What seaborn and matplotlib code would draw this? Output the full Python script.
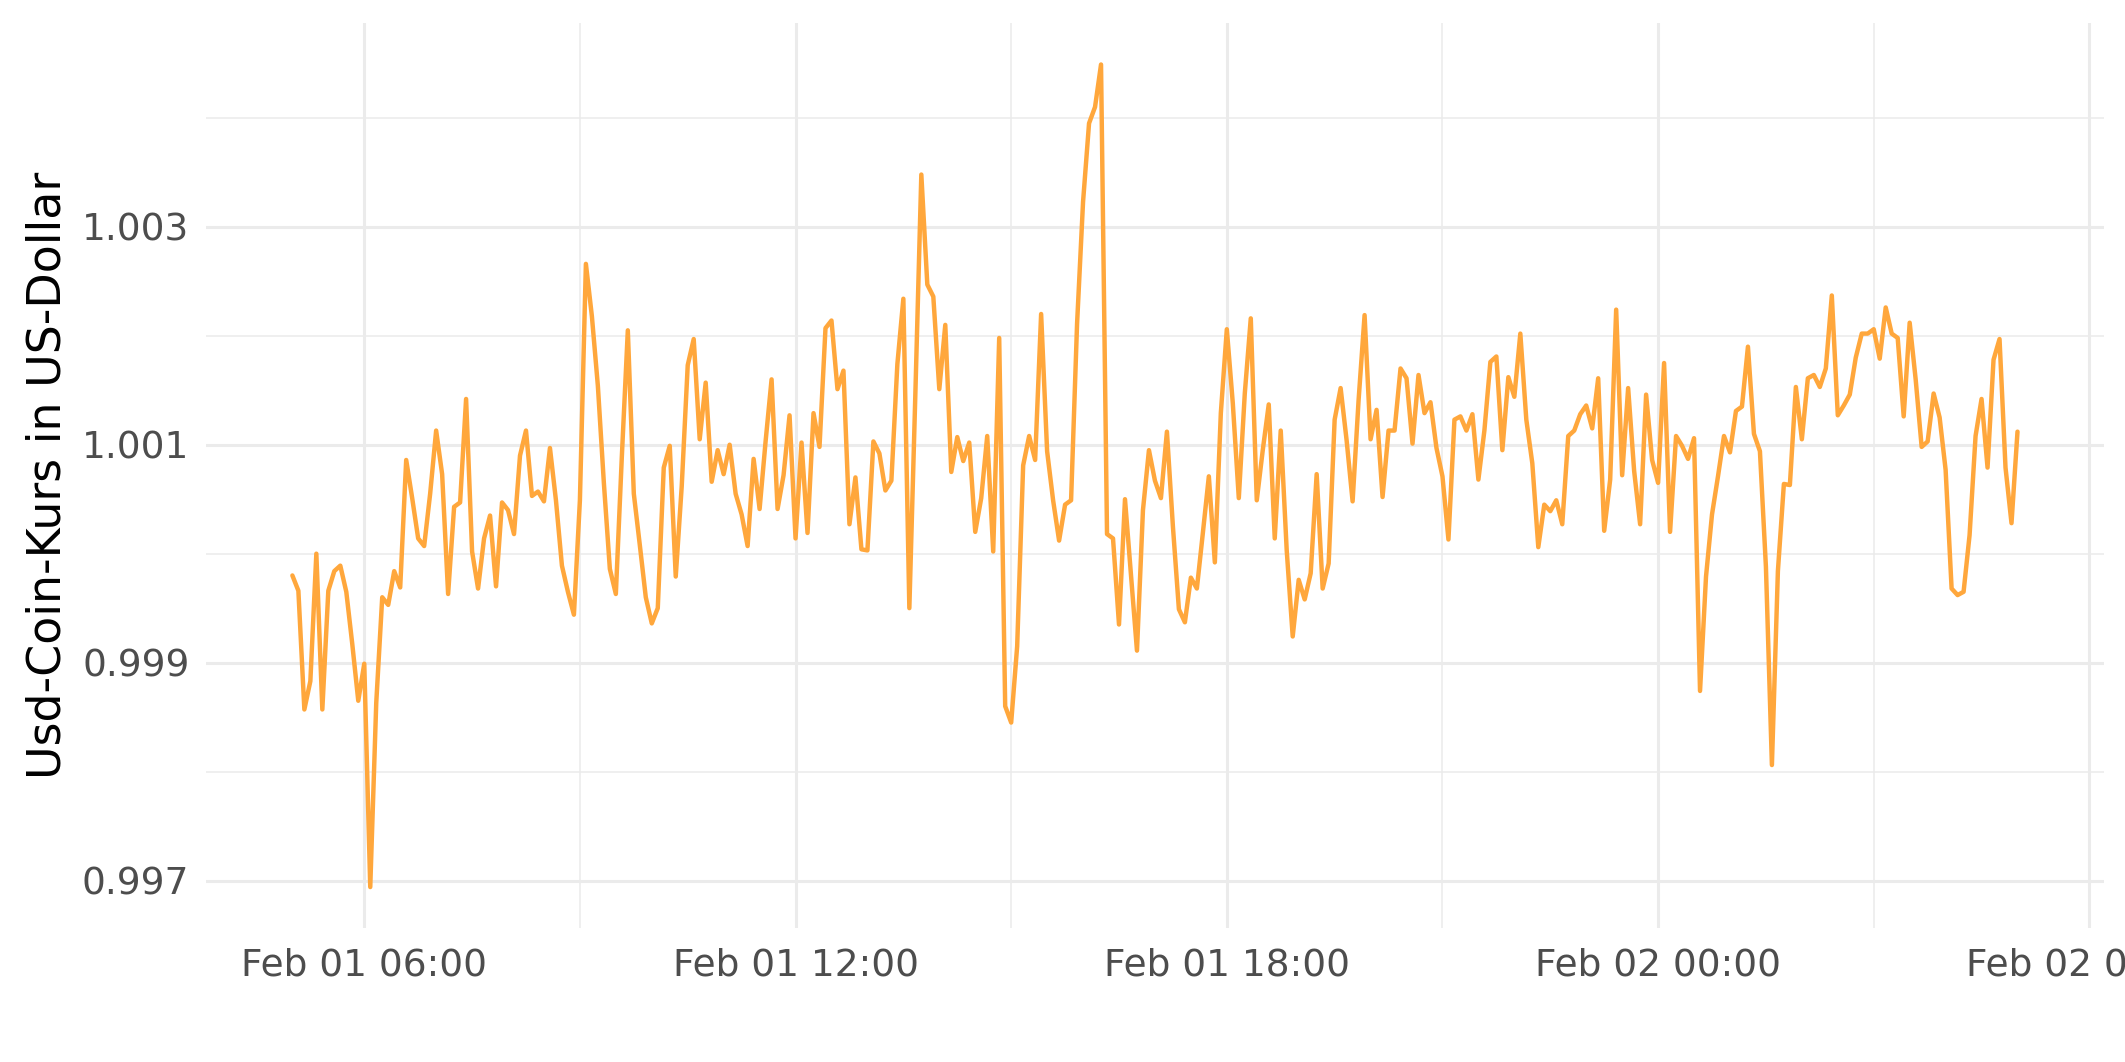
import matplotlib
matplotlib.use('Agg')
import matplotlib.pyplot as plt
import matplotlib.dates as mdates
from matplotlib.ticker import FixedLocator, FormatStrFormatter
import pandas as pd
import seaborn as sns

# USD-Coin Kurs, 5-Minuten-Werte vom 01.02. 05:00 bis 02.02. 05:00
kurs_05_11 = [0.99980, 0.99966, 0.99857, 0.99883, 1.00000, 0.99857, 0.99966, 0.99984, 0.99989, 0.99965,
              0.99917, 0.99865, 0.99899, 0.99694, 0.99863, 0.99960, 0.99953, 0.99984, 0.99969, 1.00086,
              1.00051, 1.00014, 1.00007, 1.00055, 1.00113, 1.00073, 0.99963, 1.00043, 1.00047, 1.00142,
              1.00002, 0.99968, 1.00014, 1.00035, 0.99970, 1.00047, 1.00040, 1.00018, 1.00090, 1.00113,
              1.00053, 1.00057, 1.00048, 1.00097, 1.00049, 0.99989, 0.99965, 0.99944, 1.00049, 1.00266,
              1.00218, 1.00154, 1.00065, 0.99986, 0.99963, 1.00089, 1.00205, 1.00055, 1.00008, 0.99960,
              0.99936, 0.99950, 1.00079, 1.00099, 0.99979, 1.00062, 1.00173, 1.00197, 1.00105, 1.00157,
              1.00066, 1.00095]
kurs_11_17 = [1.00073, 1.00100, 1.00055, 1.00036, 1.00007, 1.00087, 1.00041, 1.00103, 1.00160, 1.00041,
              1.00072, 1.00127, 1.00014, 1.00102, 1.00019, 1.00129, 1.00098, 1.00207, 1.00214, 1.00151,
              1.00168, 1.00027, 1.00070, 1.00004, 1.00003, 1.00103, 1.00092, 1.00058, 1.00067, 1.00174,
              1.00234, 0.99950, 1.00146, 1.00348, 1.00247, 1.00236, 1.00151, 1.00210, 1.00075, 1.00107,
              1.00085, 1.00102, 1.00020, 1.00051, 1.00108, 1.00002, 1.00198, 0.99860, 0.99845, 0.99915,
              1.00081, 1.00108, 1.00086, 1.00220, 1.00094, 1.00049, 1.00012, 1.00045, 1.00049, 1.00211,
              1.00323, 1.00395, 1.00410, 1.00449, 1.00018, 1.00014, 0.99935, 1.00050, 0.99981, 0.99911,
              1.00040, 1.00095]
kurs_17_23 = [1.00067, 1.00051, 1.00112, 1.00025, 0.99949, 0.99937, 0.99978, 0.99968, 1.00019, 1.00071,
              0.99992, 1.00129, 1.00206, 1.00138, 1.00051, 1.00147, 1.00216, 1.00049, 1.00095, 1.00137,
              1.00014, 1.00113, 1.00003, 0.99924, 0.99976, 0.99958, 0.99982, 1.00073, 0.99968, 0.99991,
              1.00123, 1.00152, 1.00104, 1.00048, 1.00141, 1.00219, 1.00105, 1.00132, 1.00052, 1.00113,
              1.00113, 1.00170, 1.00161, 1.00101, 1.00164, 1.00129, 1.00139, 1.00097, 1.00071, 1.00013,
              1.00123, 1.00126, 1.00113, 1.00128, 1.00068, 1.00113, 1.00176, 1.00181, 1.00095, 1.00162,
              1.00144, 1.00202, 1.00123, 1.00083, 1.00006, 1.00045, 1.00039, 1.00049, 1.00027, 1.00108,
              1.00113, 1.00128]
kurs_23_05 = [1.00136, 1.00115, 1.00161, 1.00021, 1.00068, 1.00224, 1.00072, 1.00152, 1.00076, 1.00027,
              1.00146, 1.00086, 1.00065, 1.00175, 1.00020, 1.00108, 1.00099, 1.00087, 1.00106, 0.99874,
              0.99979, 1.00036, 1.00071, 1.00108, 1.00093, 1.00131, 1.00135, 1.00190, 1.00110, 1.00094,
              0.99988, 0.99806, 0.99984, 1.00064, 1.00063, 1.00153, 1.00105, 1.00161, 1.00164, 1.00153,
              1.00170, 1.00237, 1.00127, 1.00136, 1.00146, 1.00180, 1.00202, 1.00202, 1.00206, 1.00179,
              1.00226, 1.00202, 1.00198, 1.00126, 1.00212, 1.00160, 1.00098, 1.00103, 1.00147, 1.00125,
              1.00077, 0.99968, 0.99962, 0.99965, 1.00017, 1.00108, 1.00142, 1.00079, 1.00178, 1.00197,
              1.00079, 1.00028, 1.00112]

y_ticks = [0.997, 0.999, 1.001, 1.003]
y_minor = [0.998, 1.000, 1.002, 1.004]

kurs = kurs_05_11 + kurs_11_17 + kurs_17_23 + kurs_23_05
zeit = pd.date_range('2022-02-01 05:00', periods=len(kurs), freq='5min')
df = pd.DataFrame({'zeit': zeit, 'kurs': kurs})

sns.set_theme(style='white')
plt.rcParams['font.family'] = ['DejaVu Sans']

fig, ax = plt.subplots(figsize=(10.625, 5.31), dpi=200)
fig.subplots_adjust(left=0.097, right=0.99, top=0.978, bottom=0.126)

sns.lineplot(data=df, x='zeit', y='kurs', ax=ax, color='#FFA73C', linewidth=1.6)
ax.margins(x=0.05, y=0.05)

ax.xaxis.set_major_locator(mdates.HourLocator(byhour=[0, 6, 12, 18]))
ax.xaxis.set_minor_locator(mdates.HourLocator(byhour=[3, 9, 15, 21]))
ax.xaxis.set_major_formatter(mdates.DateFormatter('%b %d %H:%M'))
ax.yaxis.set_major_locator(FixedLocator(y_ticks))
ax.yaxis.set_minor_locator(FixedLocator(y_minor))
ax.yaxis.set_major_formatter(FormatStrFormatter('%.3f'))

ax.grid(which='major', color='#EBEBEB', linewidth=1.1)
ax.grid(which='minor', color='#EBEBEB', linewidth=0.55)
for s in ax.spines.values():
    s.set_visible(False)
ax.tick_params(which='both', length=0)
ax.tick_params(axis='both', labelsize=13.5, labelcolor='#4D4D4D')
ax.tick_params(axis='x', pad=7)
ax.tick_params(axis='y', pad=6)

ax.set_xlabel('')
ax.set_ylabel('Usd-Coin-Kurs in US-Dollar', fontsize=16.5, color='black', labelpad=4)

fig.savefig('out.png')
